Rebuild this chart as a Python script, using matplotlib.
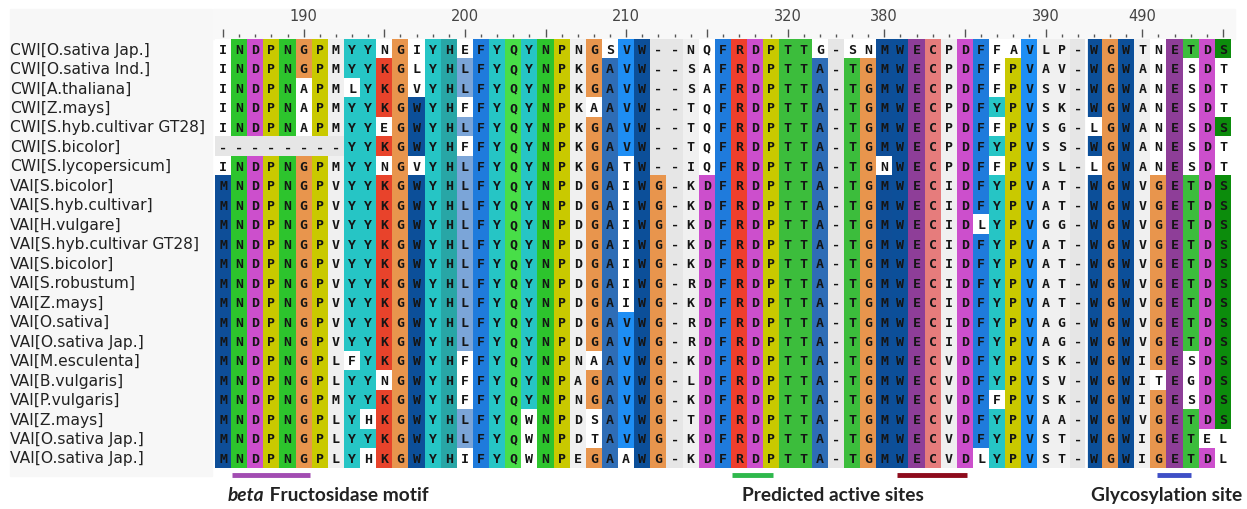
import numpy as np
import matplotlib
matplotlib.use("Agg")
import matplotlib.pyplot as plt
from matplotlib import transforms
from matplotlib.colors import to_rgb
from matplotlib.patches import Rectangle


# ------------------------------------------------------------------------------
names = [
    "CWI[O.sativa Jap.]", "CWI[O.sativa Ind.]", "CWI[A.thaliana]", "CWI[Z.mays]",
    "CWI[S.hyb.cultivar GT28]", "CWI[S.bicolor]", "CWI[S.lycopersicum]",
    "VAI[S.bicolor]", "VAI[S.hyb.cultivar]", "VAI[H.vulgare]",
    "VAI[S.hyb.cultivar GT28]", "VAI[S.bicolor]", "VAI[S.robustum]", "VAI[Z.mays]",
    "VAI[O.sativa]", "VAI[O.sativa Jap.]", "VAI[M.esculenta]", "VAI[B.vulgaris]",
    "VAI[P.vulgaris]", "VAI[Z.mays]", "VAI[O.sativa Jap.]", "VAI[O.sativa Jap.]",
]

# first alignment block (ruler 185-390)
block1 = [
    "INDPNGPMYYNGIYHEFYQYNPNGSVW--NQFRDPTTG-SNMWECPDFFAVLP-",
    "INDPNGPMYYKGLYHLFYQYNPKGAVW--SAFRDPTTA-TGMWECPDFFPVAV-",
    "INDPNAPMLYKGVYHLFYQYNPKGAVW--SAFRDPTTA-TGMWECPDFFPVSV-",
    "INDPNAPMYYKGWYHFFYQYNPKAAVW--TQFRDPTTA-TGMWECPDFYPVSK-",
    "INDPNAPMYYEGWYHLFYQYNPKGAVW--TQFRDPTTA-TGMWECPDFFPVSG-",
    "--------YYKGWYHFFYQYNPKGAVW--TQFRDPTTA-TGMWECPDFYPVSS-",
    "INDPNGPMYYNGVYHLFYQYNPKGATW--IQFRDPTTA-TGNWECPDFFPVSL-",
    "MNDPNGPVYYKGWYHLFYQYNPDGAIWG-KDFRDPTTA-TGMWECIDFYPVAT-",
    "MNDPNGPVYYKGWYHLFYQYNPDGAIWG-KDFRDPTTA-TGMWECIDFYPVAT-",
    "MNDPNGPVYYKGWYHLFYQYNPDGAIWG-KDFRDPTTA-TGMWECIDLYPVGG-",
    "MNDPNGPVYYKGWYHLFYQYNPDGAIWG-KDFRDPTTA-TGMWECIDFYPVAT-",
    "MNDPNGPVYYKGWYHLFYQYNPDGAIWG-KDFRDPTTA-TGMWECIDFYPVAT-",
    "MNDPNGPVYYKGWYHLFYQYNPDGAIWG-RDFRDPTTA-TGMWECIDFYPVAT-",
    "MNDPNGPVYYKGWYHLFYQYNPDGAIWG-KDFRDPTTA-TGMWECIDFYPVAT-",
    "MNDPNGPVYYKGWYHLFYQYNPDGAVWG-RDFRDPTTA-TGMWECIDFYPVAG-",
    "MNDPNGPVYYKGWYHLFYQYNPDGAVWG-RDFRDPTTA-TGMWECIDFYPVAG-",
    "MNDPNGPLFYKGWYHFFYQYNPNAAVWG-KDFRDPTTA-TGMWECVDFYPVSK-",
    "MNDPNGPLYYNGWYHFFYQYNPAGAVWG-LDFRDPTTA-TGMWECVDFYPVSV-",
    "MNDPNGPMYYKGWYHFFYQYNPNGAVWG-KDFRDPTTA-TGMWECVDFFPVSK-",
    "MNDPNGPLYHKGWYHLFYQWNPDSAVWG-TDFRDPTTA-TGMWECVDFYPVAA-",
    "MNDPNGPLYYKGWYHLFYQWNPDTAVWG-KDFRDPTTA-TGMWECVDFYPVST-",
    "MNDPNGPLYHKGWYHIFYQWNPEGAAWG-KDFRDPTTA-TGMWECVDLYPVST-",
]

# second alignment block (ruler ~487-495)
block2 = [
    "WGWTNETDS", "WGWANESDT", "WGWANESDT", "WGWANESDT", "LGWANESDS",
    "WGWANESDT", "LGWANESDT", "WGWVGETDS", "WGWVGETDS", "WGWVGETDS",
    "WGWVGETDS", "WGWVGETDS", "WGWVGETDS", "WGWVGETDS", "WGWVGETDS",
    "WGWVGETDS", "WGWIGESDS", "WGWITEGDS", "WGWIGESDS", "WGWVGETDS",
    "WGWIGETEL", "WGWIGETDL",
]

# ruler: 1-based alignment columns with a long tick, and the numbered ones
ruler_major = [1, 6, 11, 16, 21, 26, 31, 36, 42, 47, 52, 58, 63]
ruler_labels = {6: "190", 16: "200", 26: "210", 36: "320", 42: "380",
                52: "390", 58: "490"}

# annotated motifs: (first col, last col, bar colour)
motif_bars = [
    (1.05, 5.9, "#a24db2"),
    (32.05, 34.6, "#2fb84c"),
    (42.3, 46.6, "#8e0b1c"),
    (58.4, 60.55, "#3f4fc6"),
]
# ------------------------------------------------------------------------------

res_colors = {
    "A": "#2e6db6", "C": "#e67c7c", "D": "#cc4fcc", "E": "#8e3e98",
    "F": "#1f7bdc", "G": "#e8954d", "H": "#28a6a6", "I": "#7ba5d8",
    "K": "#e8432b", "L": "#7ba5d8", "M": "#0e4e98", "N": "#2dc42d",
    "P": "#c9c900", "Q": "#48de48", "R": "#ef3f2c", "S": "#0c8c0c",
    "T": "#3cbd3c", "V": "#1e8ef4", "W": "#0c4f99", "Y": "#26c5c5",
}
gap_color = "#e6e6e6"
plain_color = "#f0f0f0"
odd_color = "#ffffff"

seqs = [a + b for a, b in zip(block1, block2)]
n_rows, n_cols = len(seqs), len(seqs[0])
n_block1 = len(block1[0])

# a column is coloured where one residue holds more than half of the rows
consensus = []
for j in range(n_cols):
    vals, counts = np.unique([s[j] for s in seqs], return_counts=True)
    k = counts.argmax()
    if vals[k] != "-" and counts[k] > n_rows / 2:
        consensus.append(vals[k])
    else:
        consensus.append(None)

img = np.ones((n_rows, n_cols, 3))
for i, s in enumerate(seqs):
    for j, ch in enumerate(s):
        if ch == "-":
            c = gap_color
        elif consensus[j] is None:
            c = plain_color
        elif ch == consensus[j]:
            c = res_colors[ch]
        else:
            c = odd_color
        img[i, j] = to_rgb(c)

W, H = 1247, 510
fig = plt.figure(figsize=(W / 100, H / 100), dpi=100)
fig.patch.set_facecolor("white")

# faint panels behind names and ruler
fig.add_artist(Rectangle((10 / W, 1 - 477 / H), 202 / W, 467 / H,
                         transform=fig.transFigure, color="#f7f7f7", zorder=-2))
fig.add_artist(Rectangle((213 / W, 1 - 40 / H), 1022 / W, 30 / H,
                         transform=fig.transFigure, color="#f8f8f8", zorder=-2))

ax = fig.add_axes([215 / W, 1 - 468.7 / H, 1016 / W, 428.4 / H])
ax.patch.set_visible(False)
ax.imshow(img, extent=(0, n_cols, n_rows, 0), aspect="auto",
          interpolation="nearest")
ax.set_xlim(0, n_cols)
ax.set_ylim(n_rows, 0)
for sp in ax.spines.values():
    sp.set_visible(False)
ax.spines["top"].set_position(("outward", 2))
ax.set_yticks([])

ax.xaxis.tick_top()
ax.set_xticks([c - 0.5 for c in ruler_major])
ax.set_xticklabels([ruler_labels.get(c, "") for c in ruler_major])
ax.set_xticks([c - 0.5 for c in range(1, n_cols + 1) if c not in ruler_major],
              minor=True)
ax.tick_params(axis="x", which="major", length=6, width=1, color="#555555",
               labelsize=10.5, labelcolor="#444444", pad=4)
ax.tick_params(axis="x", which="minor", length=2, width=1, color="#555555")

# residue letters
for i, s in enumerate(seqs):
    for j, ch in enumerate(s):
        ax.text(j + 0.5, i + 0.52, ch, ha="center", va="center", fontsize=9.5,
                fontweight="bold", family="DejaVu Sans Mono", color="#151515")

# white separator between the two blocks
ax.axvline(n_block1, color="white", lw=2)

# sequence names
trans = transforms.blended_transform_factory(fig.transFigure, ax.transData)
for i, name in enumerate(names):
    ax.text(10 / W, i + 0.5, name, transform=trans, ha="left", va="center",
            fontsize=11.2, color="#222222")

# motif bars and captions
for x0, x1, c in motif_bars:
    ax.plot([x0, x1], [n_rows + 0.35, n_rows + 0.35], color=c, lw=3.5,
            solid_capstyle="butt", clip_on=False)

cap = dict(fontsize=13.8, fontweight="bold", family="Lato", color="#222222",
           va="bottom", ha="left")
t1 = ax.text(0.8, n_rows + 1.8, "beta", fontstyle="italic", clip_on=False, **cap)
ax.annotate(" Fructosidase motif", xy=(1, 0), xycoords=t1, **cap)
ax.text(32.7, n_rows + 1.8, "Predicted active sites", clip_on=False, **cap)
ax.text(54.3, n_rows + 1.8, "Glycosylation site", clip_on=False, **cap)

fig.savefig("out.png", dpi=100)
